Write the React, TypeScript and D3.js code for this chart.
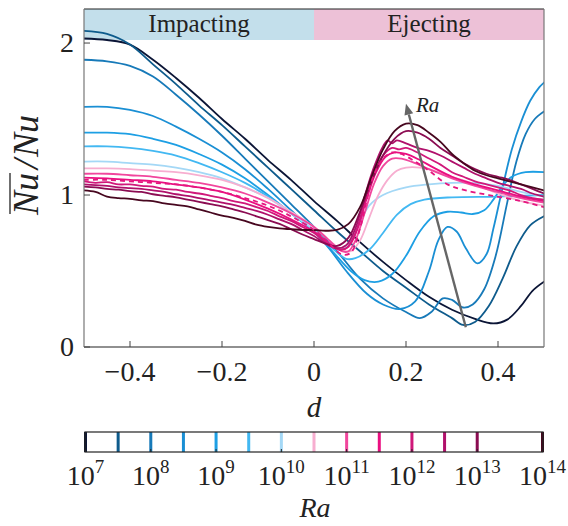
import React from "react";
import * as d3 from "d3";

const W = 568;
const H = 526;

const xTicks = [-0.4, -0.2, 0, 0.2, 0.4];
const xTickLabels = ["−0.4", "−0.2", "0", "0.2", "0.4"];
const yTicks = [0, 1, 2];
const regionNames = ["Impacting", "Ejecting"];
const regionColors = ["#c3dfeb", "#edc1d7"];
const cbExponents = [7, 8, 9, 10, 11, 12, 13, 14];
const raExponents = [7, 7.5, 8, 8.5, 9, 9.5, 10, 10.5, 11, 11.5, 12, 12.5, 13, 14];
const raColors = [
  "#0b1536", "#0e5b8c", "#177ab9", "#1a8fd4", "#1d9fe4", "#42b8f2", "#a4d8f6",
  "#f7aed0", "#f1469d", "#ea0f80", "#d0187a", "#b0106b", "#8b0c52", "#47071f",
];

// Nu-bar / Nu versus d, one list of [d, value] per Ra
const nuRa7 = [[-0.5,2.03],[-0.45,2.02],[-0.4,1.99],[-0.35,1.89],[-0.3,1.77],[-0.25,1.64],[-0.2,1.5],[-0.15,1.37],[-0.1,1.23],[-0.05,1.1],[0,0.96],[0.05,0.83],[0.1,0.69],[0.15,0.56],[0.2,0.44],[0.25,0.33],[0.3,0.245],[0.35,0.185],[0.39,0.155],[0.42,0.18],[0.45,0.27],[0.475,0.37],[0.5,0.43]];
const nuRa75 = [[-0.5,2.08],[-0.45,2.06],[-0.4,1.99],[-0.35,1.86],[-0.3,1.73],[-0.25,1.59],[-0.2,1.46],[-0.15,1.32],[-0.1,1.18],[-0.05,1.04],[0,0.9],[0.05,0.76],[0.1,0.63],[0.15,0.5],[0.2,0.39],[0.25,0.28],[0.3,0.19],[0.324,0.145],[0.35,0.165],[0.38,0.27],[0.41,0.45],[0.44,0.66],[0.47,0.8],[0.5,0.86]];
const nuRa8 = [[-0.5,1.89],[-0.45,1.88],[-0.4,1.85],[-0.35,1.78],[-0.3,1.66],[-0.25,1.53],[-0.2,1.39],[-0.15,1.24],[-0.1,1.09],[-0.05,0.94],[0,0.79],[0.05,0.63],[0.1,0.45],[0.15,0.32],[0.2,0.23],[0.23,0.19],[0.255,0.23],[0.28,0.32],[0.3,0.31],[0.324,0.26],[0.345,0.28],[0.37,0.38],[0.395,0.6],[0.42,0.95],[0.44,1.22],[0.46,1.4],[0.48,1.5],[0.5,1.55]];
const nuRa85 = [[-0.5,1.58],[-0.45,1.58],[-0.4,1.56],[-0.35,1.52],[-0.3,1.45],[-0.25,1.37],[-0.2,1.28],[-0.15,1.17],[-0.1,1.04],[-0.05,0.9],[0,0.76],[0.035,0.64],[0.07,0.5],[0.115,0.35],[0.15,0.28],[0.187,0.25],[0.22,0.3],[0.25,0.5],[0.27,0.7],[0.29,0.79],[0.31,0.76],[0.33,0.65],[0.355,0.55],[0.375,0.61],[0.39,0.78],[0.41,1.05],[0.43,1.3],[0.45,1.48],[0.47,1.62],[0.49,1.71],[0.5,1.74]];
const nuRa9 = [[-0.5,1.41],[-0.45,1.41],[-0.4,1.4],[-0.35,1.37],[-0.3,1.33],[-0.25,1.27],[-0.2,1.2],[-0.15,1.11],[-0.1,1.0],[-0.05,0.88],[0,0.76],[0.04,0.63],[0.08,0.5],[0.11,0.44],[0.14,0.43],[0.17,0.48],[0.2,0.6],[0.23,0.76],[0.26,0.86],[0.29,0.89],[0.32,0.885],[0.345,0.875],[0.37,0.9],[0.39,0.97],[0.41,1.06],[0.43,1.12],[0.46,1.15],[0.5,1.15]];
const nuRa95 = [[-0.5,1.32],[-0.45,1.32],[-0.4,1.31],[-0.35,1.29],[-0.3,1.26],[-0.25,1.21],[-0.2,1.15],[-0.15,1.08],[-0.1,0.99],[-0.05,0.88],[0,0.76],[0.04,0.65],[0.07,0.58],[0.09,0.585],[0.12,0.64],[0.15,0.75],[0.18,0.87],[0.21,0.94],[0.24,0.97],[0.3,0.985],[0.4,0.99],[0.5,1.0]];
const nuRa10 = [[-0.5,1.22],[-0.45,1.22],[-0.4,1.21],[-0.35,1.2],[-0.3,1.18],[-0.25,1.15],[-0.2,1.11],[-0.15,1.05],[-0.1,0.98],[-0.05,0.88],[0,0.77],[0.03,0.69],[0.06,0.65],[0.08,0.7],[0.1,0.82],[0.12,0.93],[0.15,1.0],[0.2,1.05],[0.25,1.07],[0.3,1.08],[0.35,1.08],[0.4,1.06],[0.45,1.02],[0.5,0.99]];
const nuRa105 = [[-0.5,1.175],[-0.45,1.175],[-0.4,1.17],[-0.35,1.16],[-0.3,1.15],[-0.25,1.13],[-0.2,1.1],[-0.15,1.05],[-0.1,0.98],[-0.05,0.89],[0,0.79],[0.03,0.71],[0.06,0.64],[0.08,0.63],[0.1,0.7],[0.12,0.85],[0.14,1.0],[0.16,1.1],[0.18,1.16],[0.2,1.18],[0.23,1.18],[0.26,1.16],[0.3,1.12],[0.35,1.07],[0.4,1.01],[0.45,0.96],[0.5,0.93]];
const nuRa11 = [[-0.5,1.14],[-0.45,1.14],[-0.4,1.13],[-0.35,1.12],[-0.3,1.1],[-0.25,1.08],[-0.2,1.05],[-0.15,1.01],[-0.1,0.95],[-0.05,0.88],[0,0.79],[0.03,0.71],[0.06,0.63],[0.075,0.63],[0.09,0.7],[0.11,0.88],[0.13,1.07],[0.15,1.19],[0.17,1.24],[0.19,1.24],[0.22,1.21],[0.25,1.17],[0.3,1.11],[0.35,1.06],[0.4,1.02],[0.45,0.98],[0.5,0.95]];
const nuRa115 = [[-0.5,1.115],[-0.45,1.11],[-0.4,1.1],[-0.35,1.09],[-0.3,1.07],[-0.25,1.05],[-0.2,1.02],[-0.15,0.97],[-0.1,0.91],[-0.05,0.84],[0,0.76],[0.03,0.69],[0.055,0.64],[0.075,0.66],[0.095,0.78],[0.115,0.98],[0.135,1.15],[0.155,1.25],[0.175,1.28],[0.2,1.27],[0.23,1.23],[0.26,1.18],[0.3,1.12],[0.35,1.07],[0.4,1.03],[0.45,0.99],[0.5,0.96]];
const nuRa12 = [[-0.5,1.09],[-0.475,1.08],[-0.45,1.085],[-0.425,1.07],[-0.4,1.07],[-0.375,1.06],[-0.35,1.055],[-0.325,1.04],[-0.3,1.035],[-0.275,1.02],[-0.25,1.01],[-0.225,0.995],[-0.2,0.98],[-0.175,0.96],[-0.15,0.945],[-0.125,0.92],[-0.1,0.895],[-0.075,0.86],[-0.05,0.83],[-0.025,0.79],[0,0.75],[0.025,0.69],[0.05,0.645],[0.07,0.65],[0.09,0.75],[0.11,0.95],[0.13,1.14],[0.15,1.26],[0.17,1.31],[0.185,1.3],[0.2,1.31],[0.225,1.28],[0.25,1.24],[0.275,1.2],[0.3,1.15],[0.325,1.12],[0.35,1.09],[0.375,1.07],[0.4,1.05],[0.425,1.03],[0.45,1.0],[0.475,0.98],[0.5,0.97]];
const nuRa125 = [[-0.5,1.07],[-0.475,1.065],[-0.45,1.06],[-0.425,1.05],[-0.4,1.045],[-0.375,1.04],[-0.35,1.03],[-0.325,1.02],[-0.3,1.005],[-0.275,0.995],[-0.25,0.98],[-0.225,0.965],[-0.2,0.95],[-0.175,0.935],[-0.15,0.915],[-0.125,0.895],[-0.1,0.87],[-0.075,0.84],[-0.05,0.81],[-0.025,0.77],[0,0.73],[0.025,0.68],[0.05,0.65],[0.07,0.67],[0.09,0.78],[0.11,0.99],[0.13,1.18],[0.15,1.32],[0.16,1.36],[0.17,1.34],[0.18,1.36],[0.2,1.34],[0.225,1.31],[0.25,1.29],[0.275,1.26],[0.3,1.22],[0.325,1.18],[0.35,1.14],[0.375,1.11],[0.4,1.08],[0.425,1.06],[0.45,1.04],[0.475,1.01],[0.5,0.99]];
const nuRa13 = [[-0.5,1.055],[-0.475,1.05],[-0.45,1.04],[-0.425,1.035],[-0.4,1.025],[-0.375,1.02],[-0.35,1.005],[-0.325,0.995],[-0.3,0.985],[-0.275,0.97],[-0.25,0.955],[-0.225,0.94],[-0.2,0.925],[-0.175,0.905],[-0.15,0.885],[-0.125,0.86],[-0.1,0.835],[-0.075,0.81],[-0.05,0.775],[-0.025,0.74],[0,0.71],[0.025,0.68],[0.05,0.665],[0.075,0.72],[0.1,0.89],[0.125,1.09],[0.15,1.26],[0.175,1.37],[0.2,1.42],[0.225,1.41],[0.25,1.37],[0.275,1.31],[0.3,1.26],[0.325,1.21],[0.35,1.17],[0.375,1.14],[0.4,1.12],[0.425,1.1],[0.45,1.07],[0.475,1.04],[0.5,1.01]];
const nuRa14 = [[-0.5,1.03],[-0.475,1.02],[-0.45,0.99],[-0.425,0.98],[-0.4,0.975],[-0.375,0.965],[-0.35,0.96],[-0.325,0.945],[-0.3,0.935],[-0.275,0.925],[-0.25,0.905],[-0.225,0.885],[-0.2,0.865],[-0.175,0.85],[-0.15,0.83],[-0.125,0.805],[-0.1,0.79],[-0.075,0.78],[-0.05,0.775],[-0.025,0.77],[0,0.77],[0.025,0.765],[0.05,0.77],[0.075,0.81],[0.1,0.92],[0.125,1.12],[0.15,1.3],[0.175,1.42],[0.2,1.47],[0.225,1.46],[0.25,1.41],[0.275,1.35],[0.3,1.27],[0.325,1.21],[0.35,1.16],[0.375,1.13],[0.4,1.11],[0.425,1.09],[0.45,1.07],[0.475,1.05],[0.5,1.03]];
const nuDashed = [[-0.5,1.1],[-0.45,1.1],[-0.4,1.09],[-0.35,1.08],[-0.3,1.07],[-0.25,1.05],[-0.2,1.02],[-0.15,0.98],[-0.1,0.93],[-0.05,0.86],[0,0.77],[0.03,0.69],[0.06,0.61],[0.08,0.62],[0.1,0.78],[0.115,0.97],[0.13,1.13],[0.15,1.24],[0.17,1.28],[0.19,1.27],[0.22,1.22],[0.25,1.16],[0.29,1.07],[0.33,1.03],[0.38,1.0],[0.45,0.96],[0.5,0.92]];
const dashedColor = "#e5167f";

const nuCurves = [nuRa7, nuRa75, nuRa8, nuRa85, nuRa9, nuRa95, nuRa10, nuRa105, nuRa11, nuRa115, nuRa12, nuRa125, nuRa13, nuRa14];

const TF: React.CSSProperties = { fontFamily: '"Liberation Serif", "Times New Roman", "DejaVu Serif", serif' };
const TFI: React.CSSProperties = { ...TF, fontStyle: "italic" };

export default function App() {
  const left = 84, right = 544, top = 9, bottom = 347;
  const x = d3.scaleLinear().domain([-0.5, 0.5]).range([left, right]);
  const y = d3.scaleLinear().domain([0, 2.224]).range([bottom, top]);
  const line = d3
    .line<number[]>()
    .x((d) => x(d[0]))
    .y((d) => y(d[1]))
    .curve(d3.curveCatmullRom.alpha(0.5));
  const cb = d3.scaleLog().domain([1e7, 1e14]).range([85.5, 542.5]);
  const bandTop = y(2.224);
  const bandBottom = y(2.02);

  const arrowStart = [0.33, 0.13];
  const arrowEnd = [0.2, 1.6];
  const ax0 = x(arrowStart[0]), ay0 = y(arrowStart[1]);
  const ax1 = x(arrowEnd[0]), ay1 = y(arrowEnd[1]);
  const ang = Math.atan2(ay1 - ay0, ax1 - ax0);
  const hl = 11, hw = 4.5;
  const bx = ax1 - hl * Math.cos(ang), by = ay1 - hl * Math.sin(ang);
  const head = `M${ax1},${ay1} L${bx + hw * Math.sin(ang)},${by - hw * Math.cos(ang)} L${bx - hw * Math.sin(ang)},${by + hw * Math.cos(ang)} Z`;

  return (
    <svg
      width={W}
      height={H}
      style={{ position: "absolute", left: 0, top: 0, background: "#fff", ...TF }}
    >
      <defs>
        <clipPath id="plotclip">
          <rect x={left} y={top} width={right - left} height={bottom - top} />
        </clipPath>
      </defs>
      {/* region bands */}
      <rect x={x(-0.5)} y={bandTop} width={x(0) - x(-0.5)} height={bandBottom - bandTop} fill={regionColors[0]} />
      <rect x={x(0)} y={bandTop} width={x(0.5) - x(0)} height={bandBottom - bandTop} fill={regionColors[1]} />
      <text x={x(-0.25)} y={(bandTop + bandBottom) / 2 + 7} textAnchor="middle" fontSize={25} fill="#222" style={TF}>
        {regionNames[0]}
      </text>
      <text x={x(0.25)} y={(bandTop + bandBottom) / 2 + 7} textAnchor="middle" fontSize={25} fill="#222" style={TF}>
        {regionNames[1]}
      </text>

      <g clipPath="url(#plotclip)" fill="none" strokeLinejoin="round" strokeLinecap="round">
        {nuCurves.map((c, i) => (
          <path key={i} d={line(c as number[][]) || ""} stroke={raColors[i]} strokeWidth={1.8} />
        ))}
        <path d={line(nuDashed as number[][]) || ""} stroke={dashedColor} strokeWidth={1.8} strokeDasharray="5,4" strokeLinecap="butt" />
      </g>

      {/* Ra arrow */}
      <line x1={ax0} y1={ay0} x2={bx} y2={by} stroke="#666" strokeWidth={2.4} />
      <path d={head} fill="#666" />
      <text x={ax1 + 10} y={ay1 + 8} fontSize={21} fill="#222" style={TFI}>Ra</text>

      {/* spines */}
      <line x1={left} y1={top} x2={right} y2={top} stroke="#222" strokeWidth={1.2} />
      <line x1={left} y1={bottom} x2={right} y2={bottom} stroke="#222" strokeWidth={1.2} />
      <line x1={left} y1={top} x2={left} y2={bottom} stroke="#777" strokeWidth={1.2} />
      <line x1={right} y1={top} x2={right} y2={bottom} stroke="#777" strokeWidth={1.2} />

      {/* ticks */}
      {xTicks.map((t, i) => (
        <g key={"xt" + i}>
          <line x1={x(t)} x2={x(t)} y1={bottom} y2={bottom - 6} stroke="#444" strokeWidth={1} />
          <text x={x(t)} y={381} textAnchor="middle" fontSize={28} fill="#222" style={TF}>
            {xTickLabels[i]}
          </text>
        </g>
      ))}
      {yTicks.map((t, i) => (
        <g key={"yt" + i}>
          <line x1={left} x2={left + 6} y1={y(t)} y2={y(t)} stroke="#444" strokeWidth={1} />
          <text x={74} y={y(t) + 9} textAnchor="end" fontSize={28} fill="#222" style={TF}>
            {t}
          </text>
        </g>
      ))}

      {/* axis labels */}
      <text x={x(0)} y={417} textAnchor="middle" fontSize={29} fill="#222" style={TFI}>d</text>
      <g transform="translate(38,164) rotate(-90)" fill="#222">
        <text x={-9} y={0} textAnchor="end" fontSize={36} style={TFI}>Nu</text>
        <line x1={-50} x2={-9} y1={-28} y2={-28} stroke="#222" strokeWidth={1.3} />
        <text x={0} y={0} textAnchor="middle" fontSize={36} style={TFI}>/</text>
        <text x={7} y={0} textAnchor="start" fontSize={36} style={TFI}>Nu</text>
      </g>

      {/* colorbar */}
      <rect x={85} y={432} width={458} height={20} fill="#fff" />
      {raExponents.map((e, i) => (
        <rect key={"cb" + i} x={cb(Math.pow(10, e)) - 1.5} y={432} width={3} height={20} fill={raColors[i]} />
      ))}
      <rect x={85} y={432} width={458} height={20} fill="none" stroke="#222" strokeWidth={1.2} />
      {cbExponents.map((e, i) => (
        <g key={"cbt" + i}>
          <line x1={cb(Math.pow(10, e))} x2={cb(Math.pow(10, e))} y1={452} y2={449} stroke="#222" strokeWidth={1} />
          <text x={cb(Math.pow(10, e))} y={485} textAnchor="middle" fontSize={28} fill="#222" style={TF}>
            10<tspan fontSize={19} dy={-12}>{e}</tspan>
          </text>
        </g>
      ))}
      <text x={315} y={517} textAnchor="middle" fontSize={28} fill="#222" style={TFI}>Ra</text>
    </svg>
  );
}
